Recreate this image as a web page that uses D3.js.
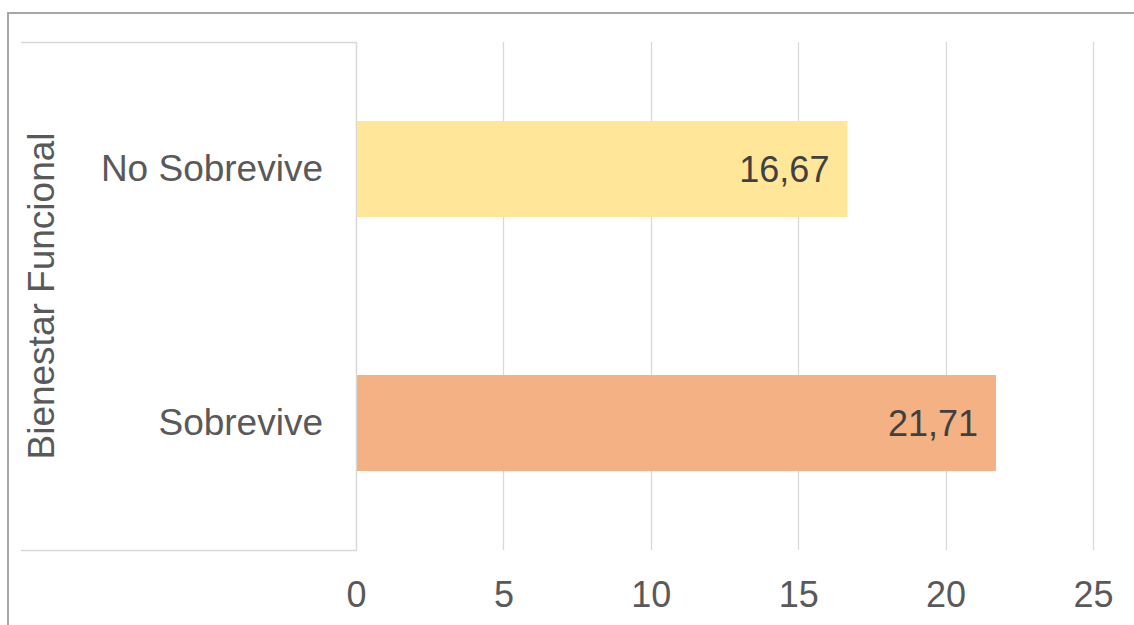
<!DOCTYPE html>
<html>
<head>
<meta charset="utf-8">
<script src="https://cdn.jsdelivr.net/npm/d3@7"></script>
<style>
  body { margin: 0; background: #fff; }
  svg { display: block; font-family: "Liberation Sans", Arial, sans-serif; }
</style>
</head>
<body>
<div id="chart"></div>
<script>
// data
const categories = ['No Sobrevive', 'Sobrevive']
const values = [16.67, 21.71]
const barColors = ['#FFE699', '#F4B183']
const tickValues = [0, 5, 10, 15, 20, 25]
const axisTitle = 'Bienestar Funcional'

const width = 1134, height = 625
const margin = {top: 42, right: 41, bottom: 75, left: 356}
const innerW = width - margin.left - margin.right
const innerH = height - margin.top - margin.bottom

const svg = d3.select('#chart').append('svg')
    .attr('width', width)
    .attr('height', height)

// outer chart border (cropped at right and bottom)
svg.append('path')
    .attr('d', 'M8,' + (height + 2) + 'V13H' + (width + 2))
    .attr('fill', 'none')
    .attr('stroke', '#a6a6a6')
    .attr('stroke-width', 2)

const g = svg.append('g')
    .attr('transform', 'translate(' + margin.left + ',' + margin.top + ')')

const x = d3.scaleLinear()
    .domain([0, 25])
    .range([0, innerW])

const y = d3.scaleBand()
    .domain(categories)
    .range([0, innerH])
    .paddingInner(0.622)
    .paddingOuter(0.311)

// gridlines
g.append('g')
  .selectAll('line')
  .data(tickValues)
  .enter().append('line')
    .attr('x1', d => Math.round(x(d)) + 0.5)
    .attr('x2', d => Math.round(x(d)) + 0.5)
    .attr('y1', 0)
    .attr('y2', innerH)
    .attr('stroke', '#d9d9d9')
    .attr('stroke-width', 1.3)

// box round the category labels
g.append('path')
    .attr('d', 'M' + (21 - margin.left) + ',0.5H0.5V' + (innerH + 0.5) + 'H' + (21 - margin.left))
    .attr('fill', 'none')
    .attr('stroke', '#d9d9d9')
    .attr('stroke-width', 1.3)

// bars
g.append('g')
  .selectAll('rect')
  .data(values)
  .enter().append('rect')
    .attr('x', x(0) + 1)
    .attr('y', (d, i) => y(categories[i]))
    .attr('width', d => x(d) - x(0) - 1)
    .attr('height', y.bandwidth())
    .attr('fill', (d, i) => barColors[i])

// value labels
g.append('g')
  .selectAll('text')
  .data(values)
  .enter().append('text')
    .attr('x', d => x(d) - 18)
    .attr('y', (d, i) => y(categories[i]) + y.bandwidth() / 2)
    .attr('dy', '0.36em')
    .attr('text-anchor', 'end')
    .attr('font-size', 36)
    .attr('fill', '#404040')
    .text(d => d.toFixed(2).replace('.', ','))

// category axis
const yAxis = g.append('g')
    .call(d3.axisLeft(y).tickSize(0).tickPadding(33))
yAxis.select('.domain').remove()
yAxis.selectAll('text')
    .attr('font-size', 37)
    .attr('fill', '#595959')
    .attr('font-family', '"Liberation Sans", Arial, sans-serif')

// value axis
const xAxis = g.append('g')
    .attr('transform', 'translate(0,' + innerH + ')')
    .call(d3.axisBottom(x).tickValues(tickValues).tickSize(0).tickPadding(31))
xAxis.select('.domain').remove()
xAxis.selectAll('text')
    .attr('font-size', 36)
    .attr('fill', '#595959')
    .attr('font-family', '"Liberation Sans", Arial, sans-serif')

// axis title
svg.append('text')
    .attr('transform', 'translate(54,' + (margin.top + innerH / 2) + ') rotate(-90)')
    .attr('text-anchor', 'middle')
    .attr('font-size', 37)
    .attr('fill', '#595959')
    .text(axisTitle)
</script>
</body>
</html>
